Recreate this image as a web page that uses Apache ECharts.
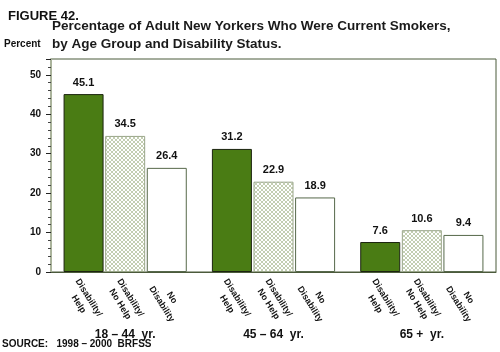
<!DOCTYPE html>
<html>
<head>
<meta charset="utf-8">
<script src="https://cdn.jsdelivr.net/npm/echarts@6/dist/echarts.min.js"></script>
<style>
  html, body { margin: 0; padding: 0; background: #fff; }
  #chart { width: 500px; height: 352px; }
</style>
</head>
<body>
<div id="chart"></div>
<script>
// age groups on the x axis
var ageGroups = ['18 \u2013 44  yr.', '45 \u2013 64  yr.', '65 +  yr.'];
// one name per bar in each group
var barNames = ['Disability/\nHelp', 'Disability/\nNo Help', 'No\nDisability'];
// percent current smokers
var helpData = [45.1, 31.2, 7.6];
var noHelpData = [34.5, 22.9, 10.6];
var noDisData = [26.4, 18.9, 9.4];
var zeroData = [0, 0, 0];
var yTicks = [0, 10, 20, 30, 40, 50];

var font = "'Liberation Sans', Arial, sans-serif";

// light cross-hatch for the "no help" bars
function hatch() {
  var c = document.createElement('canvas');
  c.width = 4; c.height = 4;
  var ctx = c.getContext('2d');
  ctx.fillStyle = '#ffffff';
  ctx.fillRect(0, 0, 4, 4);
  ctx.fillStyle = '#c3ceb2';
  [[0,0],[1,1],[2,2],[3,3],[3,0],[2,1],[1,2],[0,3]].forEach(function (p) {
    ctx.fillRect(p[0], p[1], 1, 1);
  });
  return { image: c, repeat: 'repeat' };
}

var barStyles = [
  { color: '#4a7c14', borderColor: '#1c2410', borderWidth: 1 },
  { color: hatch(), borderColor: '#9aa78a', borderWidth: 1 },
  { color: '#ffffff', borderColor: '#56684a', borderWidth: 1 }
];
var values = [helpData, noHelpData, noDisData];

var series = [];
for (var i = 0; i < 3; i++) {
  // zero-height bar only carries the rotated bar name under the axis
  series.push({
    type: 'bar',
    stack: 's' + i,
    data: zeroData,
    barWidth: 40,
    barGap: '4%',
    itemStyle: { color: 'rgba(0,0,0,0)', borderWidth: 0 },
    silent: true,
    label: {
      show: true,
      position: ['50%', 29],
      rotate: -58,
      align: 'center',
      verticalAlign: 'middle',
      formatter: (function (n) { return function () { return n; }; })(barNames[i]),
      fontFamily: font,
      fontWeight: 'bold',
      fontSize: 9,
      lineHeight: 12,
      color: '#111'
    }
  });
  series.push({
    type: 'bar',
    stack: 's' + i,
    data: values[i],
    barWidth: 40,
    barGap: '4%',
    itemStyle: barStyles[i],
    label: {
      show: true,
      position: 'top',
      distance: 6,
      fontFamily: font,
      fontWeight: 'bold',
      fontSize: 11,
      color: '#111',
      formatter: function (p) { return p.value.toFixed(1); }
    }
  });
}

var myChart = echarts.init(document.getElementById('chart'));
myChart.setOption({
  animation: false,
  title: [
    { text: 'FIGURE 42.', left: 8, top: 10, padding: 0,
      textStyle: { fontFamily: font, fontWeight: 'bold', fontSize: 13, color: '#111' } },
    { text: 'Percentage of Adult New Yorkers Who Were Current Smokers,\nby Age Group and Disability Status.',
      left: 52, top: 17, padding: 0,
      textStyle: { fontFamily: font, fontWeight: 'bold', fontSize: 13.5, lineHeight: 18, color: '#1a1a1a' } },
    { text: 'Percent', left: 4, top: 39, padding: 0,
      textStyle: { fontFamily: font, fontWeight: 'bold', fontSize: 10, color: '#111' } },
    { text: 'SOURCE:   1998 \u2013 2000  BRFSS', left: 2, top: 339, padding: 0,
      textStyle: { fontFamily: font, fontWeight: 'bold', fontSize: 10, color: '#111' } }
  ],
  grid: {
    left: 51, right: 4, top: 59, bottom: 80,
    show: true,
    borderColor: '#4b5a3b',
    borderWidth: 1
  },
  xAxis: {
    type: 'category',
    data: ageGroups,
    axisLine: { lineStyle: { color: '#4b5a3b', width: 1 } },
    axisTick: { show: false },
    axisLabel: {
      margin: 57,
      fontFamily: font,
      fontWeight: 'bold',
      fontSize: 12,
      color: '#111'
    }
  },
  yAxis: {
    type: 'value',
    min: 0,
    max: 54,
    interval: 10,
    splitLine: { show: false },
    axisLine: { show: true, lineStyle: { color: '#aab39b', width: 2 } },
    axisTick: { show: true, length: 5, lineStyle: { color: '#222' } },
    minorTick: { show: true, splitNumber: 5, length: 3, lineStyle: { color: '#444' } },
    axisLabel: {
      margin: 10,
      fontFamily: font,
      fontWeight: 'bold',
      fontSize: 10,
      color: '#111',
      formatter: function (v) { return yTicks.indexOf(v) >= 0 ? String(v) : ''; }
    }
  },
  series: series
});
</script>
</body>
</html>
